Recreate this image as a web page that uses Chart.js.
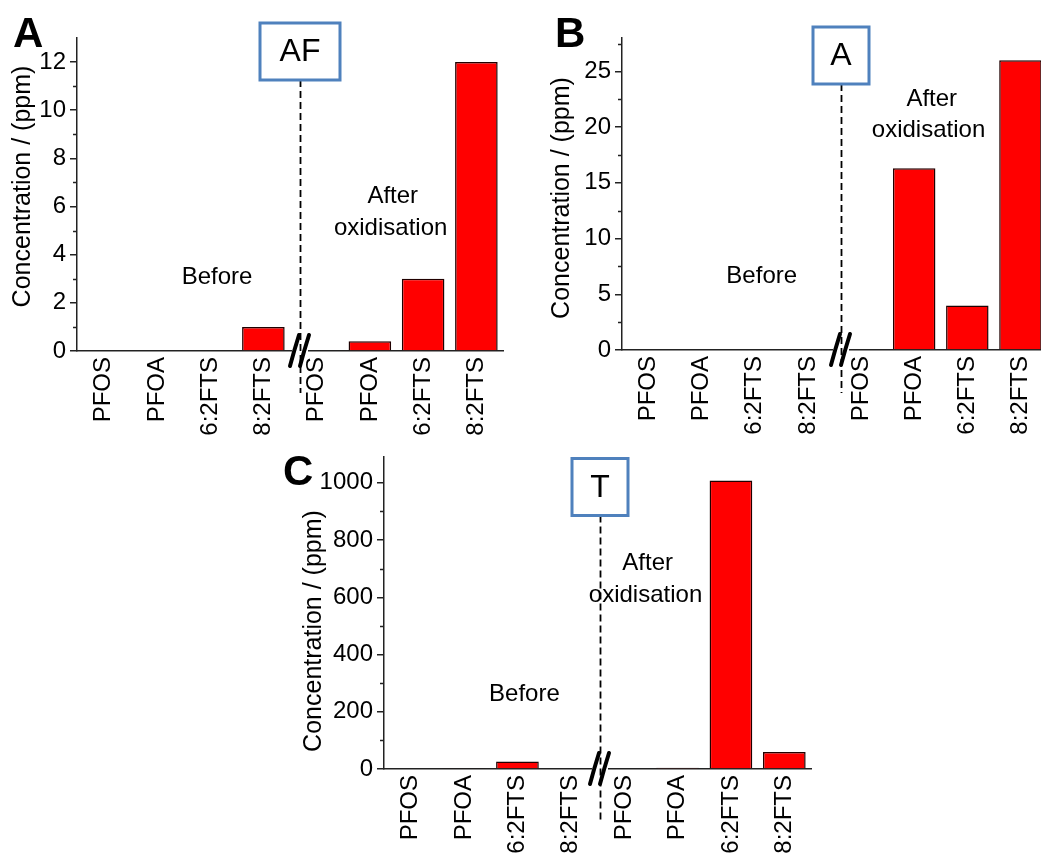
<!DOCTYPE html>
<html>
<head>
<meta charset="utf-8">
<script src="https://cdn.jsdelivr.net/npm/chart.js@4.4.1/dist/chart.umd.min.js"></script>
<style>
    html, body { margin: 0; padding: 0; background: #fff; }
    #page { position: relative; width: 1041px; height: 854px; overflow: hidden; background: #fff; }
    #page canvas { position: absolute; }
</style>
</head>
<body>
<div id="page">
    <canvas id="chartAF" width="540" height="445" style="left:0px;top:0px"></canvas>
    <canvas id="chartA" width="540" height="445" style="left:545px;top:0px"></canvas>
    <canvas id="chartT" width="560" height="445" style="left:270px;top:419px"></canvas>
</div>
<script>
const FONT = '"Liberation Sans", Arial, sans-serif';

// categories: first four before oxidation, last four after
const categories = ['PFOS', 'PFOA', '6:2FTS', '8:2FTS', 'PFOS', 'PFOA', '6:2FTS', '8:2FTS'];

// AF sample
const afBefore = [0, 0, 0, 1.0];
const afAfter = [0, 0.4, 3.0, 12.0];
const afTicks = [0, 2, 4, 6, 8, 10, 12];

// A sample
const aBefore = [0, 0, 0, 0];
const aAfter = [0, 16.3, 4.0, 26.0];
const aTicks = [0, 5, 10, 15, 20, 25];

// T sample
const tBefore = [0, 2, 26, 0];
const tAfter = [0, 4, 1008, 59];
const tTicks = [0, 200, 400, 600, 800, 1000];

const yTitle = 'Concentration / (ppm)';

// draws panel letter, boxed sample name, dashed split line, axis break, notes, minor ticks
const panelDecor = {
    id: 'panelDecor',
    afterDraw(chart, args, o) {
        const ctx = chart.ctx;
        const xs = chart.scales.x, ys = chart.scales.y;
        const area = chart.chartArea;
        ctx.save();

        // minor ticks on y axis
        ctx.strokeStyle = '#222';
        ctx.lineWidth = 1.5;
        ctx.beginPath();
        o.minor.forEach(v => {
            const py = Math.round(ys.getPixelForValue(v)) + 0.5;
            ctx.moveTo(area.left, py);
            ctx.lineTo(area.left - 4, py);
        });
        ctx.stroke();

        // y title
        ctx.fillStyle = '#000';
        ctx.font = '25px ' + FONT;
        ctx.textAlign = 'center';
        ctx.textBaseline = 'middle';
        ctx.translate(area.left - o.titleDx, (area.top + area.bottom) / 2 + o.titleDy);
        ctx.rotate(-Math.PI / 2);
        ctx.fillText(yTitle, 0, 0);
        ctx.setTransform(1, 0, 0, 1, 0, 0);

        // panel letter
        ctx.font = 'bold 42px ' + FONT;
        ctx.textAlign = 'left';
        ctx.textBaseline = 'alphabetic';
        ctx.fillText(o.letter, o.letterX, o.letterY);

        // notes
        ctx.font = '24px ' + FONT;
        ctx.textAlign = 'center';
        ctx.textBaseline = 'middle';
        o.notes.forEach(n => {
            ctx.fillText(n.text, xs.getPixelForValue(n.x), ys.getPixelForValue(n.y));
        });

        const sx = Math.round(xs.getPixelForValue(o.split));
        const b = area.bottom;

        // axis break
        ctx.fillStyle = '#fff';
        ctx.fillRect(sx - 8, b - 3, 16, 6);
        ctx.strokeStyle = '#000';
        ctx.lineWidth = 4;
        ctx.lineCap = 'round';
        [-5, 5].forEach(dx => {
            ctx.beginPath();
            ctx.moveTo(sx + dx - 5, b + 15);
            ctx.quadraticCurveTo(sx + dx - 1, b, sx + dx + 4, b - 16);
            ctx.stroke();
        });

        // box with sample name
        const boxH = 57;
        const boxTop = area.top + o.boxTop;
        ctx.lineCap = 'butt';

        // dashed split line
        ctx.strokeStyle = '#000';
        ctx.lineWidth = 1.8;
        ctx.setLineDash([7, 4]);
        ctx.beginPath();
        ctx.moveTo(sx + 0.5, boxTop + boxH);
        ctx.lineTo(sx + 0.5, b + o.dashBelow);
        ctx.stroke();
        ctx.setLineDash([]);

        ctx.fillStyle = '#fff';
        ctx.fillRect(sx - o.boxW / 2, boxTop, o.boxW, boxH);
        ctx.strokeStyle = '#4F81BD';
        ctx.lineWidth = 3;
        ctx.strokeRect(sx - o.boxW / 2, boxTop, o.boxW, boxH);
        ctx.fillStyle = '#000';
        ctx.font = '32px ' + FONT;
        ctx.textAlign = 'center';
        ctx.textBaseline = 'middle';
        ctx.fillText(o.box, sx, boxTop + boxH / 2 + 1);

        ctx.restore();
    }
};

function minorTicks(ticks, max) {
    const step = ticks[1] - ticks[0];
    const out = [];
    for (let i = 0; i < ticks.length; i++) {
        const v = ticks[i] + step / 2;
        if (v < max - 1e-9) out.push(v);
    }
    return out;
}

function makePanel(id, values, ticks, p) {
    return new Chart(document.getElementById(id), {
        type: 'bar',
        data: {
            labels: categories,
            datasets: [{
                data: values,
                backgroundColor: '#ff0000',
                borderColor: '#200000',
                borderWidth: 1.5,
                barPercentage: 0.8,
                categoryPercentage: 1
            }]
        },
        options: {
            responsive: false,
            animation: false,
            layout: { padding: { top: 38, right: p.padRight, left: 0, bottom: 0 } },
            plugins: {
                legend: { display: false },
                tooltip: { enabled: false },
                panelDecor: Object.assign({ minor: minorTicks(ticks, p.yMax) }, p.decor)
            },
            scales: {
                x: {
                    grid: { display: false, drawTicks: false },
                    border: { color: '#222', width: 1.5 },
                    ticks: {
                        font: { family: FONT, size: 24 },
                        color: '#000',
                        minRotation: 90,
                        maxRotation: 90,
                        autoSkip: false,
                        padding: 6
                    },
                    afterFit: s => { s.height = p.xHeight; }
                },
                y: {
                    min: 0,
                    max: p.yMax,
                    grid: { drawOnChartArea: false, tickLength: 7, color: '#222', lineWidth: 1.5 },
                    border: { color: '#222', width: 1.5 },
                    ticks: {
                        font: { family: FONT, size: 24 },
                        color: '#000',
                        padding: 4,
                        callback: v => String(v)
                    },
                    afterBuildTicks: s => { s.ticks = ticks.map(v => ({ value: v })); },
                    afterFit: s => { s.width = p.yWidth; }
                }
            }
        },
        plugins: [panelDecor]
    });
}

makePanel('chartAF', afBefore.concat(afAfter), afTicks, {
    yMax: 13, yWidth: 77, xHeight: 94, padRight: 37,
    decor: {
        letter: 'A', letterX: 13, letterY: 47,
        box: 'AF', boxW: 80, boxTop: -15, split: 3.69, dashBelow: 42,
        titleDx: 54, titleDy: -8,
        notes: [
            { text: 'Before', x: 2.13, y: 3.06 },
            { text: 'After', x: 5.43, y: 6.42 },
            { text: 'oxidisation', x: 5.39, y: 5.10 }
        ]
    }
});

makePanel('chartA', aBefore.concat(aAfter), aTicks, {
    yMax: 28, yWidth: 77, xHeight: 95, padRight: 38,
    decor: {
        letter: 'B', letterX: 10, letterY: 47,
        box: 'A', boxW: 56, boxTop: -11, split: 3.62, dashBelow: 43,
        titleDx: 60, titleDy: 4,
        notes: [
            { text: 'Before', x: 2.13, y: 6.65 },
            { text: 'After', x: 5.33, y: 22.46 },
            { text: 'oxidisation', x: 5.27, y: 19.68 }
        ]
    }
});

makePanel('chartT', tBefore.concat(tAfter), tTicks, {
    yMax: 1090, yWidth: 114, xHeight: 95, padRight: 19,
    decor: {
        letter: 'C', letterX: 13, letterY: 66,
        box: 'T', boxW: 56, boxTop: 1.5, split: 3.55, dashBelow: 54,
        titleDx: 70, titleDy: 18,
        notes: [
            { text: 'Before', x: 2.13, y: 259 },
            { text: 'After', x: 4.44, y: 718 },
            { text: 'oxidisation', x: 4.40, y: 608 }
        ]
    }
});
</script>
</body>
</html>
